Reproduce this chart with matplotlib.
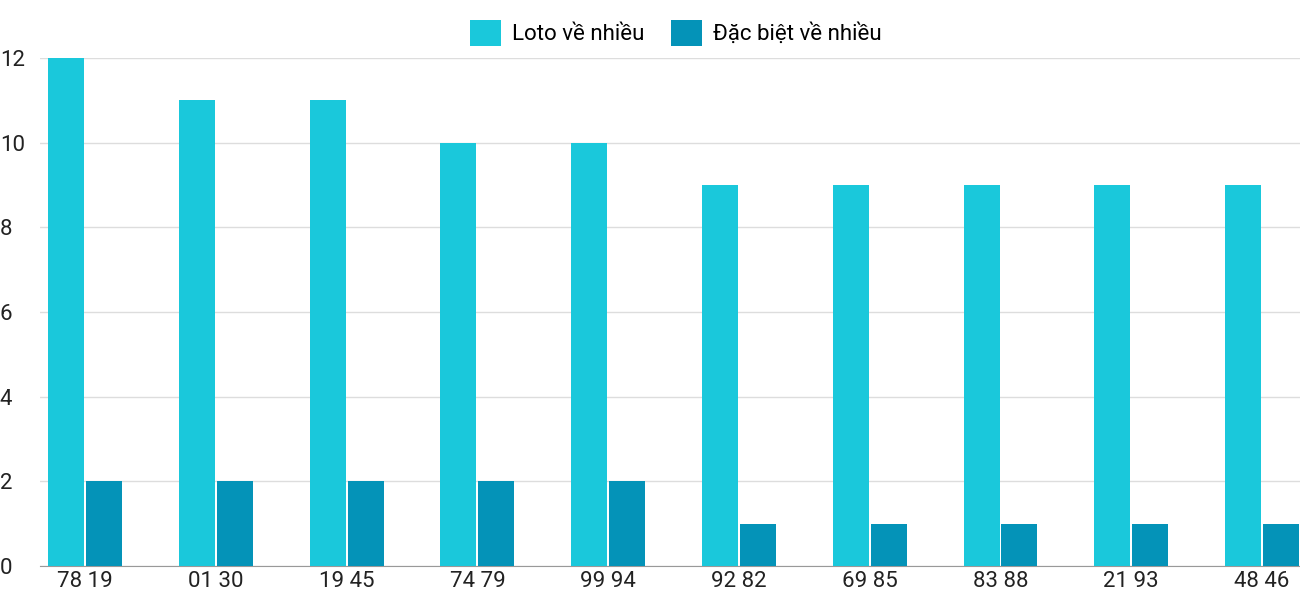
import matplotlib
matplotlib.use("Agg")
import matplotlib.pyplot as plt
import numpy as np

categories = ["78 19", "01 30", "19 45", "74 79", "99 94", "92 82", "69 85", "83 88", "21 93", "48 46"]
loto = [12, 11, 11, 10, 10, 9, 9, 9, 9, 9]
dacbiet = [2, 2, 2, 2, 2, 1, 1, 1, 1, 1]

plt.rcParams['font.family'] = ['Roboto', 'DejaVu Sans']
fig = plt.figure(figsize=(13, 6), dpi=100)
ax = fig.add_axes([0.0308, 0.0567, 0.9692, 0.8466])
x = np.arange(len(categories))
w = 0.275
ax.bar(x - 0.145, loto, w, color="#1ac8db", label="Loto về nhiều", zorder=3)
ax.bar(x + 0.145, dacbiet, w, color="#0493b8", label="Đặc biệt về nhiều", zorder=3)
ax.set_xlim(-0.344, 9.29)
ax.set_ylim(0, 12)
ax.set_yticks(range(0, 13, 2))
ax.set_xticks(x)
ax.set_xticklabels(categories)
ax.tick_params(axis='both', length=0, labelsize=16, colors="#222222")
ax.tick_params(axis='y', pad=12)
ax.grid(axis='y', color="#dddddd", linewidth=1, zorder=0)
for s in ["top", "right", "left"]:
    ax.spines[s].set_visible(False)
ax.spines["bottom"].set_color("#999999")
for lab in ax.get_yticklabels():
    lab.set_horizontalalignment('left')
    lab.set_x(-0.031 / 0.9692 * 1.0)
ax.tick_params(axis='y', pad=0)
fig.legend(loc="upper center", bbox_to_anchor=(0.52, 1.0), ncol=2, frameon=False,
           fontsize=16, handlelength=1.4, handleheight=1.4, columnspacing=1.2, handletextpad=0.5)
fig.savefig("out.png")
